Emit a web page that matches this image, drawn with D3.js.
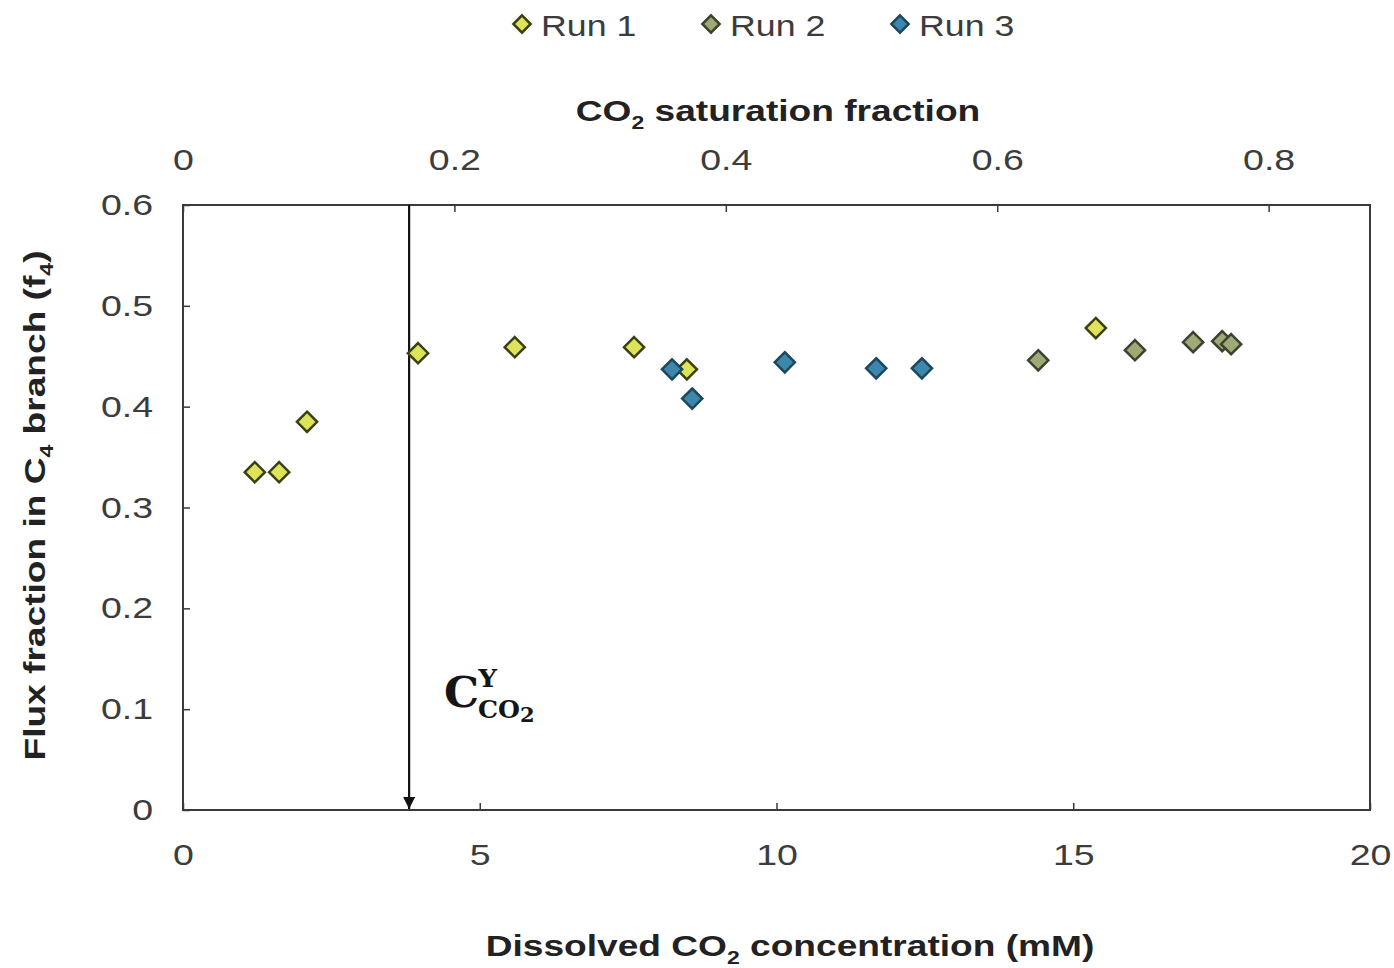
<!DOCTYPE html>
<html>
<head>
<meta charset="utf-8">
<script src="https://cdn.jsdelivr.net/npm/d3@7"></script>
<style>
  body { margin: 0; background: #fff; }
  text { font-family: "Liberation Sans", Arial, sans-serif; }
</style>
</head>
<body>
<svg id="chart"></svg>
<script>
// scatter of flux fraction vs dissolved CO2, three runs

var width = 1394;
var height = 968;

// data: [dissolved CO2 (mM), flux fraction]
var run1 = [[1.21, 0.335], [1.62, 0.335], [2.09, 0.385], [3.96, 0.453],
            [5.59, 0.459], [7.60, 0.459], [8.49, 0.437], [15.38, 0.478]];
var run2 = [[14.41, 0.446], [16.04, 0.456], [17.02, 0.464], [17.51, 0.465], [17.66, 0.462]];
var run3 = [[8.24, 0.437], [8.58, 0.408], [10.14, 0.444], [11.68, 0.438], [12.45, 0.438]];

var seriesNames = ['Run 1', 'Run 2', 'Run 3'];
var xTicks = [0, 5, 10, 15, 20];
var yTicks = [0, 0.1, 0.2, 0.3, 0.4, 0.5, 0.6];
var topTicks = [0, 0.2, 0.4, 0.6, 0.8];
var cThreshold = 3.81; // C^Y_CO2 marker

// the original figure is stretched sideways, text too
var SX = 1.25;
var SX_TITLE = 1.28;

var margin = { top: 205, right: 24, bottom: 158, left: 183 };
var plotW = width - margin.left - margin.right;
var plotH = height - margin.top - margin.bottom;

var x = d3.scaleLinear().domain([0, 20]).range([0, plotW]);
var xTop = d3.scaleLinear().domain([0, 0.8747]).range([0, plotW]);
var y = d3.scaleLinear().domain([0, 0.6]).range([plotH, 0]);

var styles = [
  { fill: '#dde45a', stroke: '#3b4012' },
  { fill: '#9fa977', stroke: '#3b4230' },
  { fill: '#3d87ad', stroke: '#1d475c' }
];

var svg = d3.select('#chart')
  .attr('width', width)
  .attr('height', height);

svg.append('defs').append('marker')
  .attr('id', 'arrow')
  .attr('viewBox', '0 0 10 10')
  .attr('refX', 10).attr('refY', 5)
  .attr('markerWidth', 14).attr('markerHeight', 12)
  .attr('markerUnits', 'userSpaceOnUse')
  .attr('orient', 'auto')
  .append('path')
    .attr('d', 'M0,0L10,5L0,10z')
    .attr('fill', '#111');

var g = svg.append('g')
  .attr('transform', 'translate(' + margin.left + ',' + margin.top + ')');

// frame
g.append('rect')
  .attr('width', plotW).attr('height', plotH)
  .attr('fill', 'none')
  .attr('stroke', '#3a3a3a')
  .attr('stroke-width', 2);

function styleAxis(sel) {
  sel.select('.domain').remove();
  sel.selectAll('line').attr('stroke', '#3a3a3a').attr('stroke-width', 1.5);
  sel.selectAll('text')
    .attr('fill', '#3c3c3c')
    .style('font-size', '30px')
    .attr('x', function () { return +d3.select(this).attr('x') / SX; })
    .attr('transform', 'scale(' + SX + ',1)');
}

function fmt(d) { return d === 0 ? '0' : d3.format('.1f')(d); }

g.append('g')
  .attr('transform', 'translate(0,' + plotH + ')')
  .call(d3.axisBottom(x).tickValues(xTicks).tickFormat(d3.format('d'))
    .tickSizeInner(-7).tickSizeOuter(0).tickPadding(34))
  .call(styleAxis);

g.append('g')
  .call(d3.axisTop(xTop).tickValues(topTicks).tickFormat(fmt)
    .tickSizeInner(-7).tickSizeOuter(0).tickPadding(35))
  .call(styleAxis);

g.append('g')
  .call(d3.axisLeft(y).tickValues(yTicks).tickFormat(fmt)
    .tickSizeInner(-7).tickSizeOuter(0).tickPadding(30))
  .call(styleAxis);

// C^Y_CO2 arrow
g.append('line')
  .attr('x1', x(cThreshold)).attr('x2', x(cThreshold))
  .attr('y1', 0).attr('y2', plotH - 1)
  .attr('stroke', '#111')
  .attr('stroke-width', 2.2)
  .attr('marker-end', 'url(#arrow)');

var lab = g.append('text')
  .attr('transform', 'translate(' + (x(cThreshold) + 35) + ',' + (y(0.1) - 2) + ') scale(1.05,1)')
  .style('font-family', '"DejaVu Serif", "Liberation Serif", serif')
  .style('font-weight', 'bold')
  .attr('fill', '#151515');
lab.append('tspan').text('C').style('font-size', '42px');
lab.append('tspan').text('Y').style('font-size', '25px').attr('dy', -20).attr('dx', -1);
lab.append('tspan').text('CO').style('font-size', '24px').attr('dy', 31).attr('dx', -18);
lab.append('tspan').text('2').style('font-size', '20px').attr('dy', 4);

// points
var sym = d3.symbol().type(d3.symbolDiamond2).size(260);
[run1, run2, run3].forEach(function (run, i) {
  g.append('g').selectAll('path')
    .data(run)
    .enter().append('path')
      .attr('d', sym)
      .attr('transform', function (d) { return 'translate(' + x(d[0]) + ',' + y(d[1]) + ')'; })
      .attr('fill', styles[i].fill)
      .attr('stroke', styles[i].stroke)
      .attr('stroke-width', 2.5);
});

// axis titles, with a subscript part
function subTitle(parent, parts, fontSize) {
  var t = parent.append('text')
    .attr('text-anchor', 'middle')
    .style('font-size', fontSize + 'px').style('font-weight', 'bold')
    .attr('fill', '#222');
  parts.forEach(function (p) {
    if (p.sub) {
      t.append('tspan').text(p.sub).style('font-size', (fontSize * 0.62) + 'px').attr('dy', 8);
    } else {
      t.append('tspan').text(p.t).attr('dy', p.after ? -8 : 0);
    }
  });
  return t;
}

subTitle(svg.append('g').attr('transform', 'translate(790,956) scale(' + SX_TITLE + ',1)'),
  [{ t: 'Dissolved CO' }, { sub: '2' }, { t: ' concentration (mM)', after: true }], 29);

subTitle(svg.append('g').attr('transform', 'translate(778,121) scale(' + SX_TITLE + ',1)'),
  [{ t: 'CO' }, { sub: '2' }, { t: ' saturation fraction', after: true }], 29);

subTitle(svg.append('g').attr('transform', 'translate(45,' + (margin.top + plotH / 2 - 2) + ') rotate(-90) scale(' + SX_TITLE + ',1)'),
  [{ t: 'Flux fraction in C' }, { sub: '4' }, { t: ' branch (f', after: true }, { sub: '4' }, { t: ')', after: true }], 29);

// legend
var legendX = [522, 711, 900];
var legend = svg.append('g');
seriesNames.forEach(function (name, i) {
  legend.append('path')
    .attr('d', d3.symbol().type(d3.symbolDiamond2).size(190))
    .attr('transform', 'translate(' + legendX[i] + ',24)')
    .attr('fill', styles[i].fill)
    .attr('stroke', styles[i].stroke)
    .attr('stroke-width', 2.5);
  legend.append('text')
    .attr('transform', 'translate(' + (legendX[i] + 19) + ',36) scale(1.19,1)')
    .style('font-size', '30px')
    .attr('fill', '#3c3c3c')
    .text(name);
});
</script>
</body>
</html>
